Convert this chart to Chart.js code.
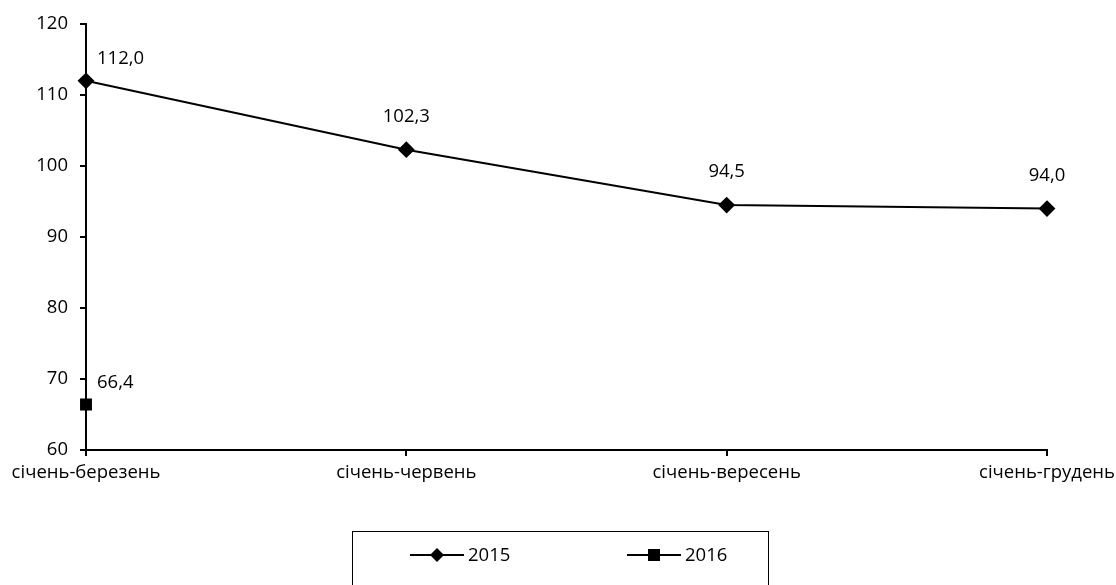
<!DOCTYPE html>
<html>
<head>
<meta charset="utf-8">
<script src="https://cdn.jsdelivr.net/npm/chart.js@4"></script>
<style>
  html, body { margin: 0; padding: 0; background: #fff; }
  #wrap { width: 1116px; height: 585px; }
</style>
</head>
<body>
<div id="wrap"><canvas id="chart" width="1116" height="585"></canvas></div>
<script>
const categories = ['січень-березень', 'січень-червень', 'січень-вересень', 'січень-грудень'];
const values2015 = [112.0, 102.3, 94.5, 94.0];
const values2016 = [66.4, null, null, null];
const seriesNames = ['2015', '2016'];
const yTicks = { min: 60, max: 120, step: 10 };

const FONT = '"Open Sans", "Noto Sans", sans-serif';
const FSIZE = 18.5;

const fmt = v => v.toFixed(1).replace('.', ',');

// value labels next to points
const valueLabels = {
  id: 'valueLabels',
  afterDatasetsDraw(chart) {
    const ctx = chart.ctx;
    ctx.save();
    ctx.font = FSIZE + 'px ' + FONT;
    ctx.fillStyle = '#000';
    ctx.textBaseline = 'middle';
    chart.data.datasets.forEach((ds, di) => {
      const meta = chart.getDatasetMeta(di);
      meta.data.forEach((pt, i) => {
        const v = ds.data[i];
        if (v == null) return;
        if (i === 0) {
          ctx.textAlign = 'left';
          ctx.fillText(fmt(v), pt.x + 11, pt.y - 22);
        } else {
          ctx.textAlign = 'center';
          ctx.fillText(fmt(v), pt.x, pt.y - 33);
        }
      });
    });
    ctx.restore();
  }
};

// boxed legend under the chart
const boxLegend = {
  id: 'boxLegend',
  afterDraw(chart) {
    const ctx = chart.ctx;
    ctx.save();
    ctx.strokeStyle = '#000';
    ctx.lineWidth = 1;
    ctx.strokeRect(352.5, 531.5, 416, 70);
    ctx.font = FSIZE + 'px ' + FONT;
    ctx.fillStyle = '#000';
    ctx.textBaseline = 'middle';
    ctx.textAlign = 'left';
    const y = 555;
    const starts = [410, 627];
    chart.data.datasets.forEach((ds, di) => {
      const x0 = starts[di];
      ctx.lineWidth = 2;
      ctx.beginPath();
      ctx.moveTo(x0, y);
      ctx.lineTo(x0 + 54, y);
      ctx.stroke();
      const cx = x0 + 27;
      ctx.beginPath();
      if (ds.pointStyle === 'rectRot') {
        ctx.moveTo(cx, y - 7); ctx.lineTo(cx + 7, y); ctx.lineTo(cx, y + 7); ctx.lineTo(cx - 7, y);
      } else {
        ctx.rect(cx - 6, y - 6, 12, 12);
      }
      ctx.closePath();
      ctx.fill();
      ctx.fillText(ds.label, x0 + 58, y + 1);
    });
    ctx.restore();
  }
};

new Chart(document.getElementById('chart'), {
  type: 'line',
  data: {
    labels: categories,
    datasets: [
      {
        label: seriesNames[0],
        data: values2015,
        borderColor: '#000',
        backgroundColor: '#000',
        borderWidth: 2,
        pointStyle: 'rectRot',
        pointRadius: 7,
        pointHoverRadius: 7,
        tension: 0
      },
      {
        label: seriesNames[1],
        data: values2016,
        borderColor: '#000',
        backgroundColor: '#000',
        borderWidth: 2,
        pointStyle: 'rect',
        pointRadius: 7,
        pointHoverRadius: 7
      }
    ]
  },
  options: {
    responsive: false,
    animation: false,
    layout: { padding: { top: 24, right: 69, bottom: 95, left: 0 } },
    plugins: { legend: { display: false }, tooltip: { enabled: false } },
    scales: {
      x: {
        offset: false,
        grid: { drawOnChartArea: false, drawTicks: true, tickLength: 6, color: '#000', lineWidth: 2 },
        border: { display: true, color: '#000', width: 2 },
        ticks: { color: '#000', font: { family: FONT, size: FSIZE }, padding: 6, maxRotation: 0, autoSkip: false },
        afterFit(s) { s.height = 40; s.paddingLeft = 0; s.paddingRight = 0; }
      },
      y: {
        min: yTicks.min,
        max: yTicks.max,
        grid: { drawOnChartArea: false, drawTicks: true, tickLength: 6, color: '#000', lineWidth: 2 },
        border: { display: true, color: '#000', width: 2 },
        ticks: { stepSize: yTicks.step, color: '#000', font: { family: FONT, size: FSIZE }, padding: 12 },
        afterFit(s) { s.width = 86; }
      }
    }
  },
  plugins: [valueLabels, boxLegend]
});
</script>
</body>
</html>
